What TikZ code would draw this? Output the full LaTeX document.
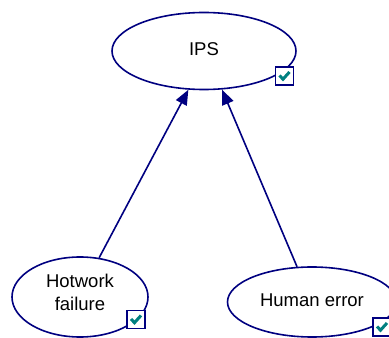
\documentclass[tikz,border=0pt]{standalone}
\usepackage{fontspec}
\setmainfont{Liberation Sans}
\usetikzlibrary{shapes.geometric,arrows.meta}
\definecolor{navy}{RGB}{0,0,128}
\definecolor{tickteal}{RGB}{0,128,128}
\tikzset{
  event/.style={ellipse, draw=navy, line width=1.6pt, fill=white, inner sep=0pt},
  lbl/.style={font=\fontsize{18.5}{23.5}\selectfont, align=center, inner sep=0pt},
  arr/.style={draw=navy, line width=1.6pt, -{Triangle[length=15pt,width=12pt]}},
  tickbox/.style={draw=navy, line width=1.4pt, fill=white, minimum size=18pt, inner sep=0pt},
}
% check mark drawn inside a named box
\newcommand{\tickin}[1]{%
  \draw[tickteal, line width=3pt, line join=miter]
    ([shift={(-5pt,0.5pt)}]#1.center) -- ([shift={(-1.5pt,-3.2pt)}]#1.center)
    -- ([shift={(5pt,4pt)}]#1.center);}
\begin{document}
\begin{tikzpicture}[x=1pt,y=1pt]
\useasboundingbox (0,0) rectangle (389,338);
\clip (0,0) rectangle (389,338);
% events
\node[event, minimum width=184pt, minimum height=77pt] (ips) at (204,287) {};
\node[event, minimum width=136pt, minimum height=80pt] (hot) at (80,41) {};
\node[event, minimum width=169pt, minimum height=70pt] (hum) at (312,36) {};
% labels
\node[lbl] (ipsl) at (204,288.5) {IPS};
\node[lbl] (hotl) at (80,45.5) {Hotwork\\failure};
\node[lbl] (huml) at (312,37.5) {Human error};
% connectors
\draw[arr] (hot.64) -- (ips.-112);
\draw[arr] (hum.113) -- (ips.-65);
% check boxes
\node[tickbox] (ipsc) at (284.5,262) {};
\node[tickbox] (hotc) at (136,18.5) {};
\node[tickbox] (humc) at (382,11) {};
\tickin{ipsc}
\tickin{hotc}
\tickin{humc}
\end{tikzpicture}
\end{document}
